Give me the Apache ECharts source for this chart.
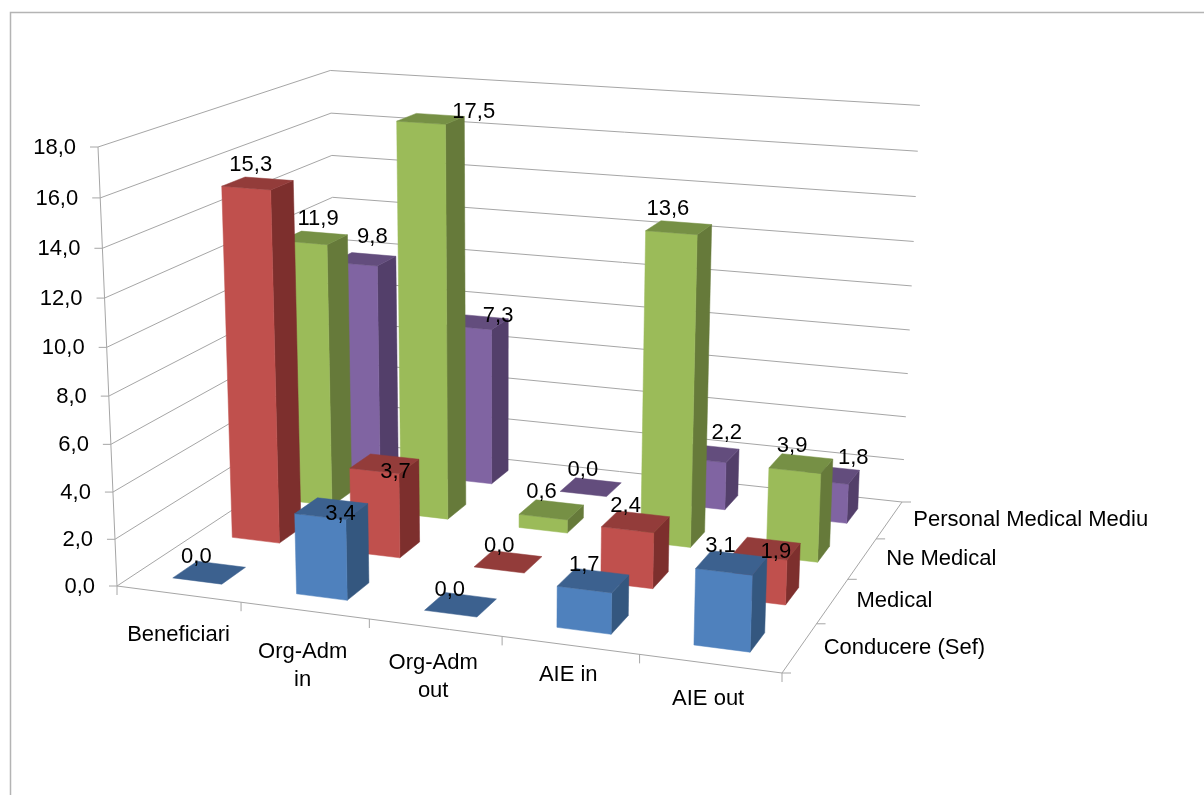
<!DOCTYPE html>
<html>
<head>
<meta charset="utf-8">
<style>
html, body { margin: 0; padding: 0; background: #fff; }
#main { width: 1204px; height: 795px; }
</style>
<script src="https://cdn.jsdelivr.net/npm/echarts@6/dist/echarts.min.js"></script>
</head>
<body>
<div id="main"></div>
<script>
const categories = ['Beneficiari', 'Org-Adm\nin', 'Org-Adm\nout', 'AIE in', 'AIE out'];
const depthNames = ['Conducere (Sef)', 'Medical', 'Ne Medical', 'Personal Medical Mediu'];
const valueTicks = [0, 2, 4, 6, 8, 10, 12, 14, 16, 18];

const conducere = [0.0, 3.4, 0.0, 1.7, 3.1];
const medical = [15.3, 3.7, 0.0, 2.4, 1.9];
const neMedical = [11.9, 17.5, 0.6, 13.6, 3.9];
const personalMediu = [9.8, 7.3, 0.0, 2.2, 1.8];
const seriesValues = [conducere, medical, neMedical, personalMediu];

// front, side, top colours per series
const colors = [
  ['#4F81BD', '#34577F', '#3C618F'],
  ['#C0504D', '#7D2F2D', '#933C3A'],
  ['#9BBB59', '#667A3A', '#769045'],
  ['#8064A2', '#533F6A', '#634D7D']
];

// hand placed data labels, offset from the centre of the bar top
const labelNudge = [
  [[-13, -16], [9, 5], [-11, -15], [-9, -16], [-11, -17]],
  [[-7, -18], [11, 8], [-9, -16], [-10, -16], [9, 3]],
  [[4, -19], [43, -7], [-10, -18], [-11, -19], [-9, -18]],
  [[8, -22], [21, -6], [-8, -17], [18, -20], [24, -17]]
];
const catLabelNudge = [[0, 27], [-2, 27], [-2, 21], [-2, 16], [-2, 21]];

const FONT = '22px "Liberation Sans", Arial, sans-serif';
const LINE = '#A6A6A6';
const BAR_FRACTION = 0.4; // gap width / gap depth 150%

// floor corners + vertical vanishing point, gives the 3d camera
const floor = [[117, 586], [782, 673], [902, 502], [337, 441]];
const vanish = [500, 9440];
const topOfFrontLeft = 147;

function makeCamera() {
  const [[x0, y0], [x1, y1], [x2, y2], [x3, y3]] = floor;
  const dx1 = x1 - x2, dx2 = x3 - x2, sx = x0 - x1 + x2 - x3;
  const dy1 = y1 - y2, dy2 = y3 - y2, sy = y0 - y1 + y2 - y3;
  const den = dx1 * dy2 - dx2 * dy1;
  const g = (sx * dy2 - dx2 * sy) / den;
  const h = (dx1 * sy - sx * dy1) / den;
  const a = x1 - x0 + g * x1, b = x3 - x0 + h * x3;
  const d = y1 - y0 + g * y1, e = y3 - y0 + h * y3;
  const s = (topOfFrontLeft - y0) / (vanish[1] - topOfFrontLeft);
  return function (u, v, z) {
    const w = g * u + h * v + 1 + s * z;
    return [
      (a * u + b * v + x0 + s * vanish[0] * z) / w,
      (d * u + e * v + y0 + s * vanish[1] * z) / w
    ];
  };
}
const project = makeCamera();

// category index + value -> unit cube, through the hidden axes
function toUnit(params, api, cat, val) {
  const cs = params.coordSys;
  const p = api.coord([cat, val]);
  return [(p[0] - cs.x) / cs.width, 1 - (p[1] - cs.y) / cs.height];
}

function line(a, b) {
  return {
    type: 'line',
    shape: { x1: a[0], y1: a[1], x2: b[0], y2: b[1] },
    style: { stroke: LINE, lineWidth: 1 }
  };
}

function label(text, x, y, align, vAlign) {
  return {
    type: 'text',
    style: {
      text: text, x: x, y: y, font: FONT, fill: '#000',
      align: align, verticalAlign: vAlign, lineHeight: 28
    }
  };
}

function renderValueTick(params, api) {
  const z = toUnit(params, api, 0, api.value(0))[1];
  const a = project(0, 0, z), b = project(0, 1, z), c = project(1, 1, z);
  return {
    type: 'group',
    children: [
      line(a, b), line(b, c),
      line([a[0] - 8, a[1]], a),
      label(api.value(0).toFixed(1).replace('.', ','), a[0] - 22, a[1] + 1, 'right', 'middle')
    ]
  };
}

function renderFrame(params, api) {
  const children = [
    line(project(0, 0, 0), project(0, 0, 1)),
    line(project(0, 0, 0), project(1, 0, 0)),
    line(project(1, 0, 0), project(1, 1, 0))
  ];
  for (let i = 0; i <= categories.length; i++) {
    const p = project(i / categories.length, 0, 0);
    children.push(line(p, [p[0], p[1] + 9]));
  }
  categories.forEach(function (name, i) {
    const p = project((i + 0.5) / categories.length, 0, 0);
    const n = catLabelNudge[i];
    children.push(label(name, p[0] + n[0], p[1] + n[1], 'center', 'top'));
  });
  for (let j = 0; j <= depthNames.length; j++) {
    const p = project(1, j / depthNames.length, 0);
    children.push(line(p, [p[0] + 9, p[1]]));
  }
  depthNames.forEach(function (name, j) {
    const p = project(1, (j + 0.5) / depthNames.length, 0);
    children.push(label(name, p[0] + 24, p[1], 'left', 'middle'));
  });
  return { type: 'group', children: children };
}

function poly(points, fill) {
  return {
    type: 'polygon',
    shape: { points: points },
    style: { fill: fill, stroke: fill, lineWidth: 0.5 }
  };
}

function renderBar(params, api) {
  const cat = api.value(0), depth = api.value(2);
  const unit = toUnit(params, api, cat, api.value(1));
  const du = BAR_FRACTION / categories.length / 2;
  const dv = BAR_FRACTION / depthNames.length / 2;
  const v = (depth + 0.5) / depthNames.length;
  const u0 = unit[0] - du, u1 = unit[0] + du, v0 = v - dv, v1 = v + dv, z = unit[1];
  const col = colors[depth];
  const children = [];
  if (z > 0) {
    children.push(poly([project(u1, v0, 0), project(u1, v1, 0), project(u1, v1, z), project(u1, v0, z)], col[1]));
    children.push(poly([project(u0, v0, 0), project(u1, v0, 0), project(u1, v0, z), project(u0, v0, z)], col[0]));
  }
  children.push(poly([project(u0, v0, z), project(u1, v0, z), project(u1, v1, z), project(u0, v1, z)], col[2]));
  return { type: 'group', children: children };
}

function renderDataLabel(params, api) {
  const cat = api.value(0), depth = api.value(2);
  const unit = toUnit(params, api, cat, api.value(1));
  const p = project(unit[0], (depth + 0.5) / depthNames.length, unit[1]);
  const n = labelNudge[depth][cat];
  return label(api.value(1).toFixed(1).replace('.', ','), p[0] + n[0], p[1] + n[1], 'center', 'middle');
}

const barSeries = [];
const labelData = [];
for (let j = depthNames.length - 1; j >= 0; j--) {
  const rows = seriesValues[j].map(function (val, i) { return [i, val, j]; });
  barSeries.push({
    name: depthNames[j],
    type: 'custom',
    renderItem: renderBar,
    encode: { x: 0, y: 1 },
    data: rows,
    clip: false,
    z: 3
  });
  labelData.push.apply(labelData, rows);
}

const chart = echarts.init(document.getElementById('main'));
chart.setOption({
  animation: false,
  backgroundColor: '#fff',
  grid: { left: 0, right: 0, top: 0, bottom: 0 },
  xAxis: { type: 'category', data: categories, show: false },
  yAxis: { type: 'value', min: 0, max: 18, interval: 2, show: false },
  graphic: [
    {
      type: 'polyline',
      shape: { points: [[10.5, 795], [10.5, 12.5], [1204, 12.5]] },
      style: { stroke: '#B4B4B4', fill: null, lineWidth: 1.5 }
    }
  ],
  series: [
    {
      type: 'custom',
      renderItem: renderValueTick,
      data: valueTicks.map(function (t) { return [t]; }),
      encode: { y: 0 },
      clip: false,
      z: 1
    },
    {
      type: 'custom',
      renderItem: renderFrame,
      data: [[0]],
      clip: false,
      z: 2
    }
  ].concat(barSeries, [
    {
      type: 'custom',
      renderItem: renderDataLabel,
      encode: { x: 0, y: 1 },
      data: labelData,
      clip: false,
      z: 10
    }
  ])
});
</script>
</body>
</html>
